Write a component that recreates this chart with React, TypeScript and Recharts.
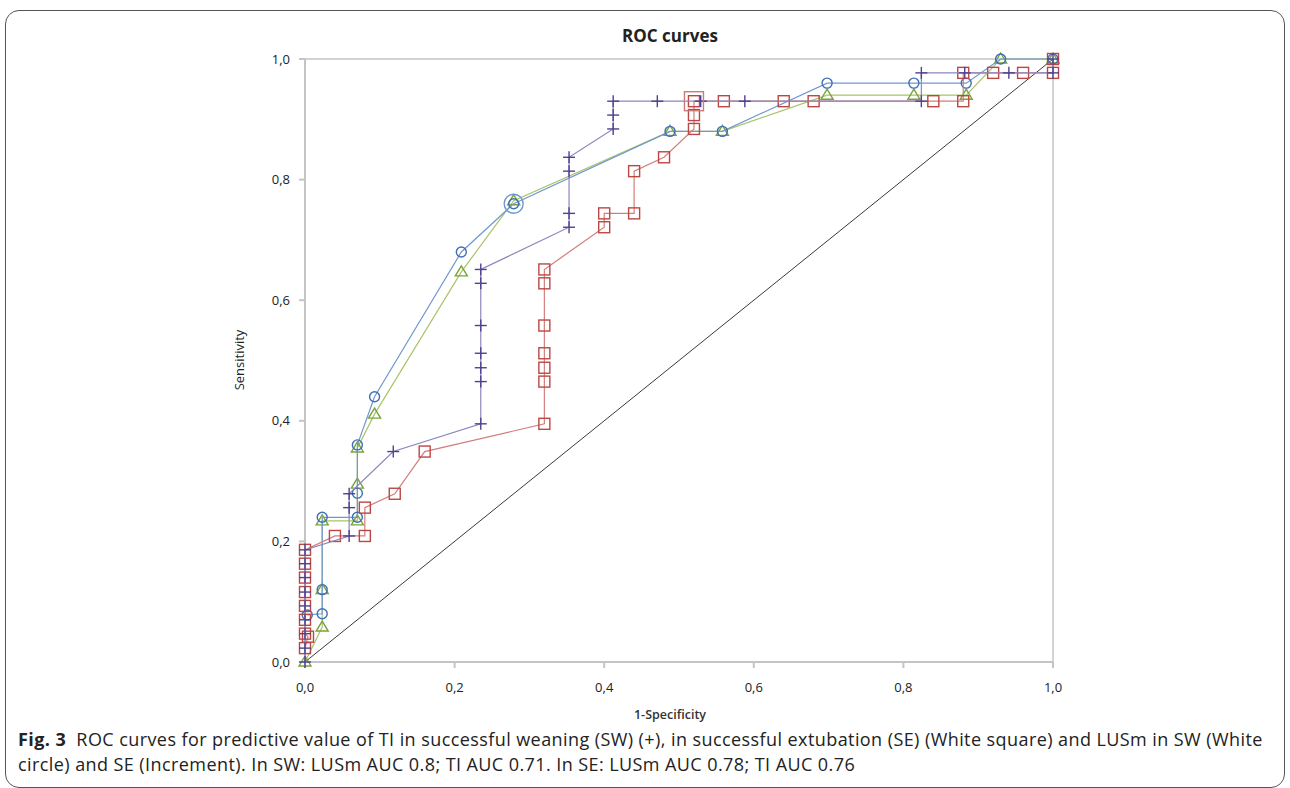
import React from 'react';
import { ScatterChart, Scatter, XAxis, YAxis, ReferenceLine } from 'recharts';

// ROC points, [1-specificity, sensitivity]
const tiSw: [number, number][] = [
  [0, 0], [0, 0.023], [0, 0.047], [0, 0.07], [0, 0.093], [0, 0.116], [0, 0.14], [0, 0.163], [0, 0.186],
  [0.059, 0.209], [0.059, 0.256], [0.059, 0.279], [0.118, 0.349], [0.235, 0.395], [0.235, 0.465],
  [0.235, 0.488], [0.235, 0.512], [0.235, 0.558], [0.235, 0.628], [0.235, 0.651], [0.353, 0.721],
  [0.353, 0.744], [0.353, 0.814], [0.353, 0.837], [0.412, 0.884], [0.412, 0.907], [0.412, 0.93],
  [0.471, 0.93], [0.529, 0.93], [0.588, 0.93], [0.824, 0.93], [0.824, 0.977], [0.882, 0.977],
  [0.941, 0.977], [1, 0.977], [1, 1],
];

const tiSe: [number, number][] = [
  [0, 0.023], [0.004, 0.042], [0, 0.047], [0, 0.07], [0, 0.093], [0, 0.116], [0, 0.14], [0, 0.163],
  [0, 0.186], [0.04, 0.209], [0.08, 0.209], [0.08, 0.256], [0.12, 0.279], [0.16, 0.349], [0.32, 0.395],
  [0.32, 0.465], [0.32, 0.488], [0.32, 0.512], [0.32, 0.558], [0.32, 0.628], [0.32, 0.651], [0.4, 0.721],
  [0.4, 0.744], [0.44, 0.744], [0.44, 0.814], [0.48, 0.837], [0.52, 0.884], [0.52, 0.907], [0.52, 0.93],
  [0.56, 0.93], [0.64, 0.93], [0.68, 0.93], [0.84, 0.93], [0.88, 0.93], [0.88, 0.977], [0.92, 0.977],
  [0.96, 0.977], [1, 0.977], [1, 1],
];

const lusmSw: [number, number][] = [
  [0.003, 0.078], [0.023, 0.08], [0.023, 0.12], [0.023, 0.24], [0.07, 0.24], [0.07, 0.28], [0.07, 0.36],
  [0.093, 0.44], [0.209, 0.68], [0.279, 0.76], [0.488, 0.88], [0.558, 0.88], [0.698, 0.96], [0.814, 0.96],
  [0.884, 0.96], [0.93, 1], [1, 1],
];

const lusmSe: [number, number][] = [
  [0, 0], [0.023, 0.058], [0.023, 0.12], [0.023, 0.234], [0.07, 0.234], [0.07, 0.295], [0.07, 0.355],
  [0.093, 0.411], [0.209, 0.647], [0.279, 0.765], [0.488, 0.88], [0.558, 0.88], [0.698, 0.94],
  [0.814, 0.94], [0.884, 0.94], [0.93, 1], [1, 1],
];

// optimal cut-off points (drawn with larger markers)
const tiSeCut: [number, number][] = [[0.52, 0.93]];
const lusmSwCut: [number, number][] = [[0.279, 0.76]];

const axisTicks = [0, 0.2, 0.4, 0.6, 0.8, 1];

const toRows = (pts: [number, number][]) => pts.map(([x, y]) => ({ x, y }));
const fmt = (v: number) => v.toFixed(1).replace('.', ',');

const makeShape = (kind: string, color: string, s: number) => (props: any) => {
  const { cx, cy } = props;
  if (cx == null || cy == null) return <g />;
  const h = s / 2;
  if (kind === 'circle') return <circle cx={cx} cy={cy} r={h} fill="none" stroke={color} strokeWidth={1.4} />;
  if (kind === 'square')
    return <rect x={cx - h} y={cy - h} width={s} height={s} fill="none" stroke={color} strokeWidth={1.4} />;
  if (kind === 'triangle')
    return (
      <polygon
        points={`${cx},${cy - h - 1} ${cx - h - 1},${cy + h - 1} ${cx + h + 1},${cy + h - 1}`}
        fill="none"
        stroke={color}
        strokeWidth={1.4}
      />
    );
  return (
    <g stroke={color} strokeWidth={1.4}>
      <line x1={cx - h} y1={cy} x2={cx + h} y2={cy} />
      <line x1={cx} y1={cy - h} x2={cx} y2={cy + h} />
    </g>
  );
};

const font = '"Open Sans", sans-serif';

export default function App() {
  return (
    <div style={{ position: 'absolute', left: 0, top: 0, width: 1290, height: 788, background: '#fff', fontFamily: font, overflow: 'hidden' }}>
      <div style={{ position: 'absolute', left: 5, top: 10, width: 1278, height: 776, border: '1px solid #555', borderRadius: 14 }} />
      <div style={{ position: 'absolute', left: 0, width: 1340, top: 24, textAlign: 'center', fontWeight: 700, fontSize: 17, color: '#222' }}>
        ROC curves
      </div>
      <div style={{ position: 'absolute', left: 0, top: 0 }}>
        <ScatterChart width={1290} height={700} margin={{ top: 59, right: 237, bottom: 8, left: 245 }}>
          <XAxis
            type="number"
            dataKey="x"
            domain={[0, 1]}
            ticks={axisTicks}
            tickFormatter={fmt}
            height={30}
            stroke="#c4c4c4"
            strokeWidth={2}
            tickSize={6}
            tickMargin={15}
            tick={{ fill: '#222', fontSize: 13, fontFamily: font }}
          />
          <YAxis
            type="number"
            dataKey="y"
            domain={[0, 1]}
            ticks={axisTicks}
            tickFormatter={fmt}
            width={60}
            stroke="#c4c4c4"
            strokeWidth={2}
            tickSize={6}
            tickMargin={9}
            tick={{ fill: '#222', fontSize: 13, fontFamily: font }}
          />
          <ReferenceLine y={1} stroke="#c4c4c4" strokeWidth={1.5} />
          <ReferenceLine x={1} stroke="#c4c4c4" strokeWidth={1.5} />
          <ReferenceLine segment={[{ x: 0, y: 0 }, { x: 1, y: 1 }]} stroke="#3a3a3a" strokeWidth={1} />
          <Scatter data={toRows(lusmSe)} line={{ stroke: '#a9c46a', strokeWidth: 1.2 }} lineType="joint" shape={makeShape('triangle', '#7aa23a', 10)} isAnimationActive={false} />
          <Scatter data={toRows(lusmSw)} line={{ stroke: '#6f98cf', strokeWidth: 1.2 }} lineType="joint" shape={makeShape('circle', '#3f6fb5', 10)} isAnimationActive={false} />
          <Scatter data={toRows(tiSe)} line={{ stroke: '#d27e7c', strokeWidth: 1.2 }} lineType="joint" shape={makeShape('square', '#bb4744', 11)} isAnimationActive={false} />
          <Scatter data={toRows(tiSw)} line={{ stroke: '#8d86bd', strokeWidth: 1.2 }} lineType="joint" shape={makeShape('plus', '#4e4290', 12)} isAnimationActive={false} />
          <Scatter data={toRows(tiSeCut)} shape={makeShape('square', '#cf7a78', 19)} isAnimationActive={false} />
          <Scatter data={toRows(lusmSwCut)} shape={makeShape('circle', '#6f98cf', 19)} isAnimationActive={false} />
        </ScatterChart>
      </div>
      <div style={{ position: 'absolute', left: 239, top: 360, transform: 'translate(-50%, -50%) rotate(-90deg)', fontSize: 13, color: '#222', whiteSpace: 'nowrap' }}>
        Sensitivity
      </div>
      <div style={{ position: 'absolute', left: 0, width: 1340, top: 706, textAlign: 'center', fontSize: 12.5, fontWeight: 600, color: '#333' }}>
        1-Specificity
      </div>
      <div style={{ position: 'absolute', left: 18, top: 727, fontSize: 18, letterSpacing: 0.42, lineHeight: '25px', color: '#222', whiteSpace: 'nowrap' }}>
        <div>
          <b>Fig. 3</b>&nbsp; ROC curves for predictive value of TI in successful weaning (SW) (+), in successful extubation (SE) (White square) and LUSm in SW (White
        </div>
        <div>circle) and SE (Increment). In SW: LUSm AUC 0.8; TI AUC 0.71. In SE: LUSm AUC 0.78; TI AUC 0.76</div>
      </div>
    </div>
  );
}
